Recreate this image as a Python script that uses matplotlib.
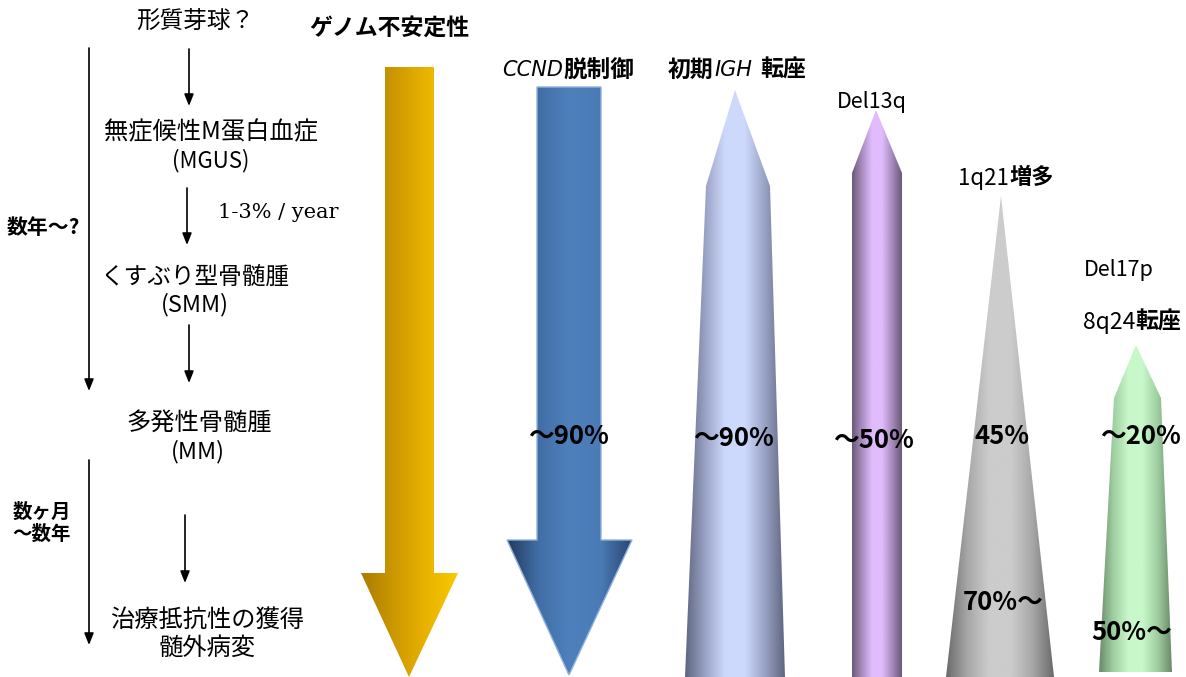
import numpy as np
import matplotlib
matplotlib.use("Agg")
import matplotlib.pyplot as plt
from matplotlib.patches import Polygon
from matplotlib.colors import LinearSegmentedColormap

plt.rcParams['font.family'] = ['Noto Sans CJK JP', 'DejaVu Sans']

# stages of disease progression (left column)
stages = ["形質芽球？", "無症候性M蛋白血症", "くすぶり型骨髄腫", "多発性骨髄腫", "治療抵抗性の獲得"]
stage_abbr = ["", "(MGUS)", "(SMM)", "(MM)", "髄外病変"]
rate_label = "1-3% / year"
period_labels = ["数年〜?", "数ヶ月\n〜数年"]

# genetic events and their frequency labels
events = ["ゲノム不安定性", "CCND脱制御", "初期IGH 転座", "Del13q", "1q21増多", "Del17p", "8q24転座"]
freq_mm = ["", "〜90%", "〜90%", "〜50%", "45%", "〜20%"]
freq_late = ["", "", "", "", "70%〜", "50%〜"]

fig = plt.figure(figsize=(11.86, 6.77), dpi=100)
ax = fig.add_axes([0, 0, 1, 1])
ax.set_xlim(0, 1186)
ax.set_ylim(677, 0)
ax.axis('off')


def shape(poly, colors, edge='none'):
    xs = [p[0] for p in poly]
    ys = [p[1] for p in poly]
    cmap = LinearSegmentedColormap.from_list('g', colors)
    grad = np.linspace(0, 1, 256)[None, :]
    im = ax.imshow(grad, extent=[min(xs), max(xs), max(ys), min(ys)],
                   cmap=cmap, aspect='auto', zorder=1, interpolation='bilinear')
    patch = Polygon(poly, closed=True, facecolor='none', edgecolor=edge, lw=1, zorder=2)
    ax.add_patch(patch)
    im.set_clip_path(patch)


def arrow(x, y0, y1, lw=1.2):
    ax.annotate('', xy=(x, y1), xytext=(x, y0),
                arrowprops=dict(arrowstyle='-|>,head_width=0.28,head_length=0.7',
                                color='black', lw=lw, shrinkA=0, shrinkB=0))


# left column: stages
ax.text(195, 22, stages[0], ha='center', va='center', fontsize=17)
ax.text(211, 132, stages[1], ha='center', va='center', fontsize=17.5)
ax.text(211, 161, stage_abbr[1], ha='center', va='center', fontsize=16)
ax.text(195, 277, stages[2], ha='center', va='center', fontsize=17)
ax.text(195, 305, stage_abbr[2], ha='center', va='center', fontsize=17)
ax.text(199, 423, stages[3], ha='center', va='center', fontsize=17.5)
ax.text(198, 452, stage_abbr[3], ha='center', va='center', fontsize=17)
ax.text(207, 620, stages[4], ha='center', va='center', fontsize=17.5)
ax.text(207, 648, stage_abbr[4], ha='center', va='center', fontsize=17.5)
ax.text(218, 212, rate_label, ha='left', va='center', fontsize=15, family='DejaVu Serif')

arrow(189, 49, 106)
arrow(187, 188, 245)
arrow(189, 325, 383)
arrow(185, 515, 583)

# time scale
arrow(89, 48, 391)
arrow(89, 460, 645)
ax.text(43, 227, period_labels[0], ha='center', va='center', fontsize=15, fontweight='bold')
ax.text(42, 523, period_labels[1], ha='center', va='center', fontsize=14,
        fontweight='bold', linespacing=1.15)

# genome instability (gold arrow)
shape([(385, 67), (434, 67), (434, 573), (458, 573), (409, 677), (361, 573), (385, 573)],
      ['#a87c00', '#cc9700', '#e8b300', '#fac900'])
ax.text(389, 28, events[0], ha='center', va='center', fontsize=16.5, fontweight='bold')

# CCND (blue arrow)
shape([(537, 87), (601, 87), (601, 540), (632, 540), (569, 675), (507, 540), (537, 540)],
      ['#223a5c', '#426ea6', '#4e80bc', '#4a7bb6', '#2a4670'], edge='#8fb2dc')
ax.text(563, 70, "CCND", ha='right', va='center', fontsize=15, style='italic',
        family='DejaVu Sans')
ax.text(563, 70, "脱制御", ha='left', va='center', fontsize=17, fontweight='bold')

# IGH
igh_cols = ['#5f6680', '#99a2c4', '#cdd9fc', '#cdd9fc', '#99a2c4', '#5f6680']
shape([(735, 90), (770, 186), (785, 677), (685, 677), (706, 186)], igh_cols)
ax.text(713, 70, "初期", ha='right', va='center', fontsize=16.5, fontweight='bold')
ax.text(714, 70, "IGH", ha='left', va='center', fontsize=15, style='italic',
        family='DejaVu Sans')
ax.text(760, 70, "転座", ha='left', va='center', fontsize=16.5, fontweight='bold')

# Del13q
del13_cols = ['#6a5878', '#a88cc0', '#e0bcfc', '#e0bcfc', '#a88cc0', '#6a5878']
shape([(876, 110), (902, 173), (902, 677), (852, 677), (852, 173)], del13_cols)
ax.text(872, 102, events[3], ha='center', va='center', fontsize=15.5)

# 1q21
gray_cols = ['#6a6a6a', '#a8a8a8', '#cccccc', '#cccccc', '#a8a8a8', '#6a6a6a']
shape([(1001, 196), (1054, 677), (946, 677)], gray_cols)
ax.text(1009, 178, "1q21", ha='right', va='center', fontsize=16)
ax.text(1009, 178, "増多", ha='left', va='center', fontsize=16, fontweight='bold')

# Del17p / 8q24
green_cols = ['#6a8a6a', '#a0d0a2', '#c8f8ca', '#c8f8ca', '#a0d0a2', '#6a8a6a']
shape([(1136, 345), (1161, 398), (1172, 672), (1099, 672), (1114, 398)], green_cols)
ax.text(1119, 270, events[5], ha='center', va='center', fontsize=15.5)
ax.text(1135, 322, "8q24", ha='right', va='center', fontsize=16.5)
ax.text(1135, 322, "転座", ha='left', va='center', fontsize=16.5, fontweight='bold')

# frequency labels
mm_x = [0, 568, 733, 873, 1002, 1140]
mm_y = [0, 437, 438, 440, 437, 437]
for xx, yy, lab in zip(mm_x, mm_y, freq_mm):
    if lab:
        ax.text(xx, yy, lab, ha='center', va='center', fontsize=18.5, fontweight='bold', zorder=5)
late_x = [0, 0, 0, 0, 1003, 1132]
late_y = [0, 0, 0, 0, 603, 633]
for xx, yy, lab in zip(late_x, late_y, freq_late):
    if lab:
        ax.text(xx, yy, lab, ha='center', va='center', fontsize=18.5, fontweight='bold', zorder=5)

fig.savefig("out.png", dpi=100)
